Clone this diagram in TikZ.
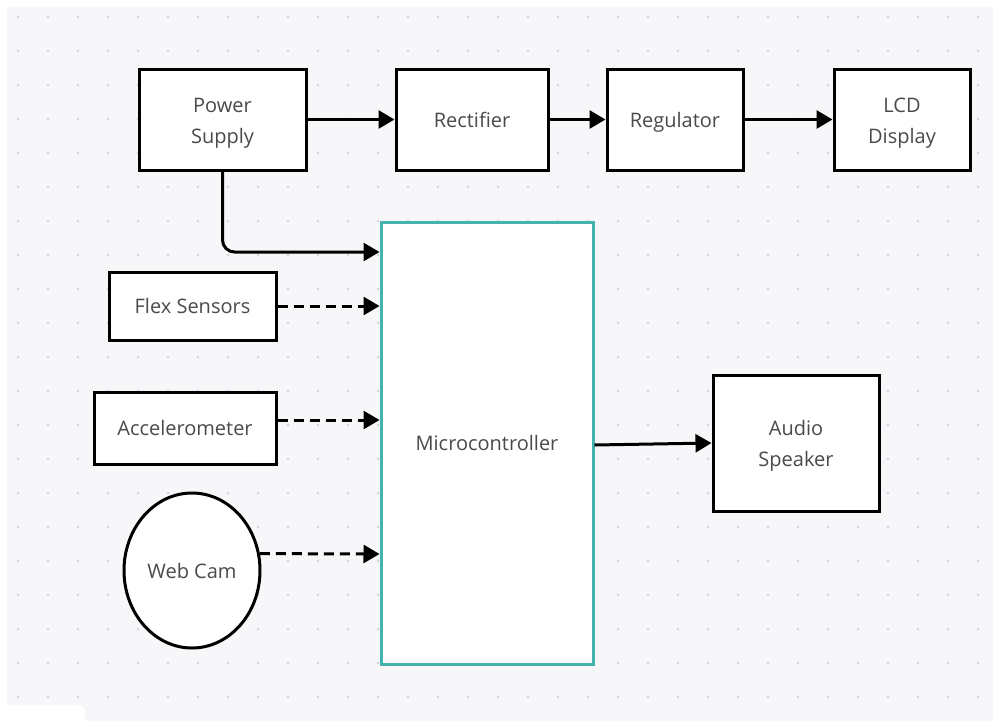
\documentclass[tikz,border=0pt]{standalone}
\usepackage{fontspec}
\setmainfont{Open Sans}
\usetikzlibrary{arrows.meta,shapes.geometric}
\definecolor{bgc}{HTML}{F7F7FA}
\definecolor{dotc}{HTML}{D2D2DA}
\definecolor{teal}{HTML}{45B3AD}
\definecolor{txt}{HTML}{4A4A4A}
\begin{document}
\begin{tikzpicture}[x=1pt,y=-1pt,
  box/.style={draw=black,line width=3pt,fill=white,rectangle,inner sep=0pt,
    align=center,text=txt,font=\fontsize{20}{31}\selectfont,
    text depth=0pt,text height=15.5pt},
  twoline/.style={text height=47pt},
  conn/.style={line width=3pt,-{Triangle[length=16pt,width=18pt]}},
  dconn/.style={conn,dash pattern=on 10pt off 6pt}]
\useasboundingbox (0,0) rectangle (993,721);
\fill[white] (0,0) rectangle (993,721);
\fill[bgc] (7,7) rectangle (993,721);
\foreach \i in {0,...,32}{
  \foreach \j in {0,...,20}{
    \fill[dotc] (18+30*\i,17+34*\j) circle (1.4);
  }
}
\fill[white,rounded corners=6pt] (0,705) rectangle (85,730);
% nodes
\node[box,twoline,minimum width=167pt,minimum height=101pt] (ps) at (222.5,119.5) {Power\\Supply};
\node[box,minimum width=152pt,minimum height=101pt] (rect) at (472,119.5) {Rectifier};
\node[box,minimum width=136pt,minimum height=101pt] (reg) at (675,119.5) {Regulator};
\node[box,twoline,minimum width=136pt,minimum height=101pt] (lcd) at (902,119.5) {LCD\\Display};
\node[box,draw=teal,minimum width=212pt,minimum height=442pt] (mc) at (487,443) {Microcontroller};
\node[box,minimum width=167pt,minimum height=68pt] (flex) at (192.5,306) {Flex Sensors};
\node[box,minimum width=182pt,minimum height=72pt] (acc) at (185,428) {Accelerometer};
\node[box,ellipse,minimum width=136pt,minimum height=155pt] (cam) at (192,570.5) {Web Cam};
\node[box,twoline,minimum width=166pt,minimum height=136pt] (spk) at (796,443) {Audio\\Speaker};
% helper coordinates
\coordinate (y1) at (0,252);
\coordinate (y2) at (0,420);
\coordinate (y3) at (0,554);
\coordinate (y4) at (0,445);
% connectors
\draw[conn] (ps.east) -- (rect.west);
\draw[conn] (rect.east) -- (reg.west);
\draw[conn] (reg.east) -- (lcd.west);
\draw[conn,rounded corners=12pt] (ps.south) |- (mc.west |- y1);
\draw[dconn] (flex.east) -- (flex.east -| mc.west);
\draw[dconn] (acc.east |- y2) -- (mc.west |- y2);
\draw[dconn] (cam.14) -- (mc.west |- y3);
\draw[conn] (mc.east |- y4) -- (spk.west);
\end{tikzpicture}
\end{document}
